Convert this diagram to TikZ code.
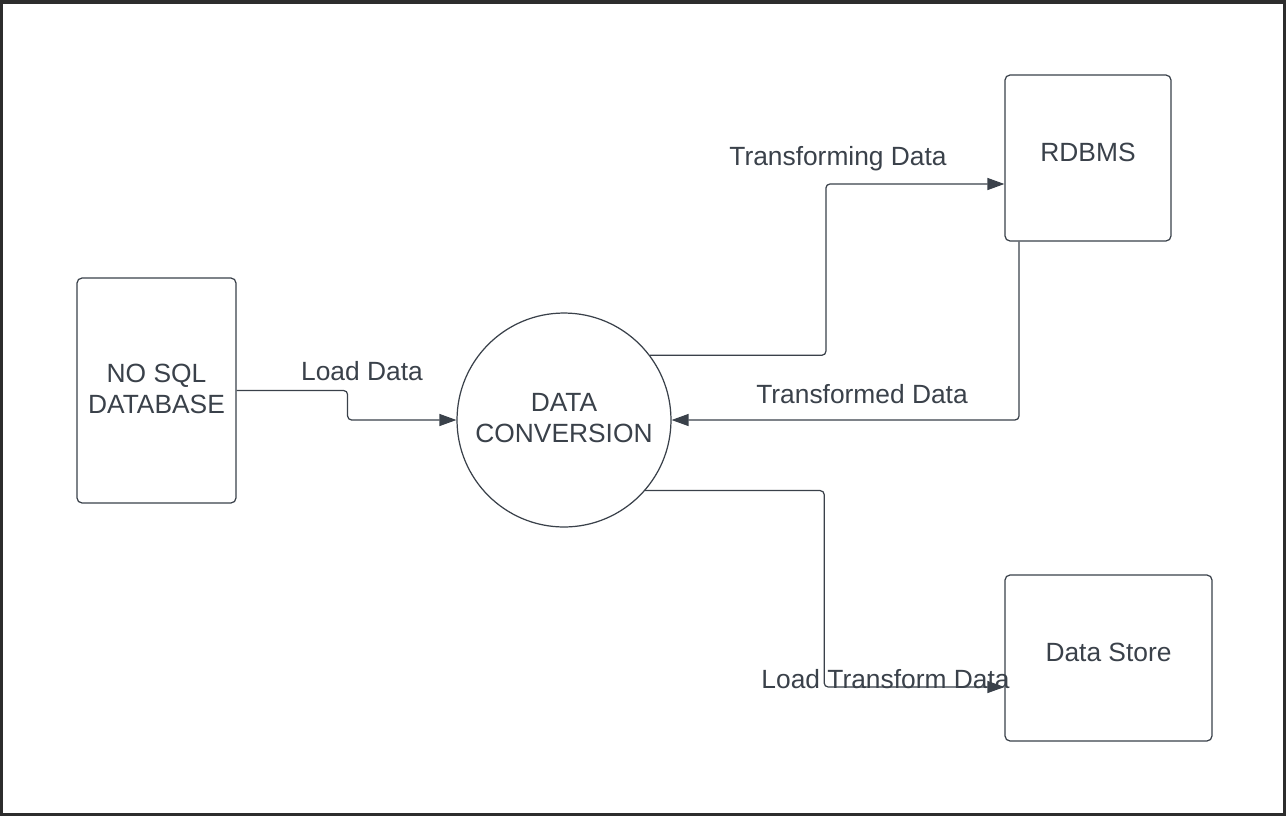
\documentclass[tikz,border=0pt]{standalone}
\usepackage{fontspec}
\setmainfont{Liberation Sans}
\usepackage{xcolor}
\usetikzlibrary{arrows.meta,positioning}

\definecolor{inkgray}{HTML}{3A414A}
\definecolor{framegray}{HTML}{2D2D2D}

\begin{document}
\begin{tikzpicture}[
        x=0.02cm, y=-0.02cm,
        font=\fontsize{15}{17.7}\selectfont,
        text=inkgray,
        block/.style={rectangle, draw=inkgray, line width=0.7pt, rounded corners=0.1cm, align=center, inner sep=0pt, text depth=0.23em},
        onebox/.style={block, text height=0.8em, text depth=0.4em},
        process/.style={circle, draw=inkgray, line width=0.7pt, minimum size=4.28cm, align=center, inner sep=0pt, text depth=0.23em},
        flow/.style={draw=inkgray, line width=0.7pt, rounded corners=0.08cm, -{Triangle[length=0.34cm,width=0.24cm]}},
        flowlabel/.style={anchor=base, inner sep=0pt}
    ]
        % frame
        \fill[framegray] (0,0) rectangle (1286,816);
        \fill[white] (3.5,3.5) rectangle (1282.5,812.5);

        \node[block, minimum width=3.18cm, minimum height=4.5cm] (nosql) at (156.5,390.5) {NO SQL\\DATABASE};
        \node[process] (conv) at (564,420) {DATA\\CONVERSION};
        \node[onebox, minimum width=3.32cm, minimum height=3.32cm] (rdbms) at (1088,158) {RDBMS};
        \node[onebox, minimum width=4.14cm, minimum height=3.32cm] (store) at (1108.5,658) {Data Store};

        \draw[flow] (nosql.east) -- ++(111,0) |- (conv.west);
        \draw[flow] (conv.37.5) -- ++(176,0) |- ([yshift=-0.52cm]rdbms.west);
        \draw[flow] ([xshift=-1.38cm]rdbms.south) |- (conv.east);
        \draw[flow] (conv.-41.2) -- ++(179,0) |- ([yshift=-0.58cm]store.west);

        \node[flowlabel] (lload) at (362,380) {Load Data};
        \node[flowlabel] (ltransforming) at (838,165) {Transforming Data};
        \node[flowlabel] (ltransformed) at (862,403) {Transformed Data};
        \node[flowlabel] (lstore) at (885.5,688) {Load Transform Data};
    \end{tikzpicture}
\end{document}
